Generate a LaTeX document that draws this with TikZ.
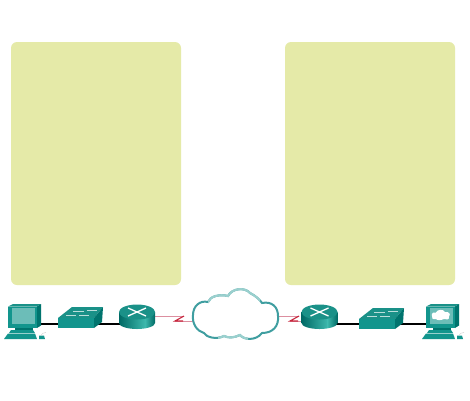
\documentclass[tikz,border=0pt]{standalone}
\definecolor{panel}{HTML}{E5EAA8}
\definecolor{devface}{HTML}{12958D}
\definecolor{devtop}{HTML}{1A9188}
\definecolor{devside}{HTML}{00746E}
\definecolor{devdark}{HTML}{006A65}
\definecolor{devlight}{HTML}{3DB8AC}
\definecolor{screen}{HTML}{6CBDB8}
\definecolor{linkred}{HTML}{DC8FA0}
\definecolor{zig}{HTML}{C8283F}
\definecolor{cloudc}{HTML}{3F9EA0}
\definecolor{cloudl}{HTML}{9AD0CE}
\tikzset{
  panelbox/.style={fill=panel,draw=none,rounded corners=6pt},
  eth/.style={black,line width=2.2pt},
  serial/.style={linkred,line width=1pt},
  zigzag/.style={zig,line width=1.1pt},
  pics/router/.style={code={
    \begin{scope}
    \clip (-18,-9) -- (-18,2) arc[start angle=180,end angle=360,x radius=18,y radius=-6] -- (18,-9) -- cycle;
    \shade[left color=devdark,right color=devlight] (-18,-10) rectangle (8,9);
    \shade[left color=devlight,right color=devdark] (8,-10) rectangle (18,9);
    \end{scope}
    \fill[devtop] (0,-9) ellipse[x radius=18,y radius=7.5];
    \draw[white,line width=1.3pt] (-9,-13) -- (9,-5) (-9,-5) -- (9,-13);
  }},
  pics/switchbox/.style={code={
    \fill[devtop] (-23,-5.5) -- (-9,-16.5) -- (22,-16.5) -- (13,-5.5) -- cycle;
    \fill[devface] (-23,-5.5) rectangle (13,4.5);
    \fill[devside] (13,-5.5) -- (22,-16.5) -- (21,-1.5) -- (13,4.5) -- cycle;
    \draw[white!70!devtop,line width=.7pt] (-8,-12) -- (3,-12) (6,-13) -- (16,-13)
       (-15,-8) -- (-5,-8) (-2,-8.5) -- (8,-8.5);
  }},
  pics/pcbox/.style={code={
    \fill[devtop] (-22,-17) -- (-17,-19.5) -- (11,-19.5) -- (7,-17) -- cycle;
    \fill[devside] (7,-17) -- (11,-19.5) -- (11,2) -- (7,4.5) -- cycle;
    \fill[devface] (-22,-17) rectangle (7,4.5);
    \fill[screen] (-18,-15.5) rectangle (5,0.5);
    \fill[devside] (-15,4.5) rectangle (3,6.5);
    \fill[devface] (-19,6.5) -- (3,6.5) -- (5,9.5) -- (-21,9.5) -- cycle;
    \fill[devface] (-22,10) -- (5,10) -- (7,15.5) -- (-26,15.5) -- cycle;
    \fill[devface] (9,12) -- (14,12) -- (15,15.5) -- (9,15.5) -- cycle;
    \draw[black!20,line width=.4pt] (11,12) .. controls (11,9) and (14,10) .. (16,9);
  }}
}
\begin{document}
\begin{tikzpicture}[x=1pt,y=-1pt]
\useasboundingbox (0,0) rectangle (470,400);
\fill[white] (0,0) rectangle (470,400);
\node[panelbox,minimum width=170pt,minimum height=243pt,inner sep=0pt] (panelL) at (96,163.5) {};
\node[panelbox,minimum width=170pt,minimum height=243pt,inner sep=0pt] (panelR) at (370,163.5) {};
\coordinate (pcL) at (30,324);
\coordinate (swL) at (81,324);
\coordinate (rtL) at (137,321);
\coordinate (rtR) at (319.5,321);
\coordinate (swR) at (382,324);
\coordinate (pcR) at (448,324);
\coordinate (zigLa) at (184,316);
\coordinate (zigLb) at (175,321);
\coordinate (zigRa) at (299,316);
\coordinate (zigRb) at (290,321);
\coordinate (cloudLa) at (194,321);
\coordinate (cloudRa) at (278,316);
% links
\draw[eth] (pcL) -- (swL);
\draw[eth] (swL) -- (rtL |- swL);
\draw[eth] (rtR |- swR) -- (swR);
\draw[eth] (swR) -- (pcR |- swR);
\draw[serial] (rtL |- zigLa) -- (zigLa);
\draw[serial] (zigLb) -- (cloudLa);
\draw[zigzag] (zigLa) -- (zigLb) -- ++(8,0);
\draw[serial] (cloudRa) -- (zigRa);
\draw[serial] (zigRb) -- (rtR |- zigRb);
\draw[zigzag] (zigRa) -- (zigRb) -- ++(8,0);
% cloud
\def\cloudpath{(193,315) .. controls (193,306) and (200,300) .. (208,302)
  .. controls (210,296) and (220,294) .. (228,296)
  .. controls (232,288) and (245,287) .. (250,293)
  .. controls (256,296) and (260,300) .. (262,303)
  .. controls (272,301) and (278,307) .. (278,316)
  .. controls (279,326) and (273,333) .. (262,333)
  .. controls (256,341) and (244,340) .. (240,335)
  .. controls (234,338) and (228,338) .. (224,336)
  .. controls (216,340) and (206,337) .. (204,333)
  .. controls (197,331) and (192,324) .. (193,315) -- cycle}
\fill[white] \cloudpath;
\draw[cloudc,line width=2pt] \cloudpath;
\begin{scope}
\clip (208,280) rectangle (260,302);
\draw[cloudl,line width=2.1pt] \cloudpath;
\end{scope}
\begin{scope}
\clip (218,330) rectangle (248,345);
\draw[cloudl,line width=2.1pt] \cloudpath;
\end{scope}
% devices
\path (pcL) ++(0,-0.5) pic {pcbox};
\path (swL) ++(0,-0.5) pic {switchbox};
\path (rtL) pic {router};
\path (rtR) pic {router};
\path (swR) ++(0,0.5) pic {switchbox};
\path (pcR) ++(0,-0.5) pic {pcbox};
\fill[white] (432,316) .. controls (431,313) and (434,311.5) .. (436,312.5)
  .. controls (437,309) and (444,309) .. (445,312)
  .. controls (449,311.5) and (451,314) .. (449,316.5)
  .. controls (450,319.5) and (446,320.5) .. (444,319)
  .. controls (441,320.5) and (437,320.5) .. (436,319)
  .. controls (433,320) and (431,318) .. (432,316) -- cycle;
\end{tikzpicture}
\end{document}
